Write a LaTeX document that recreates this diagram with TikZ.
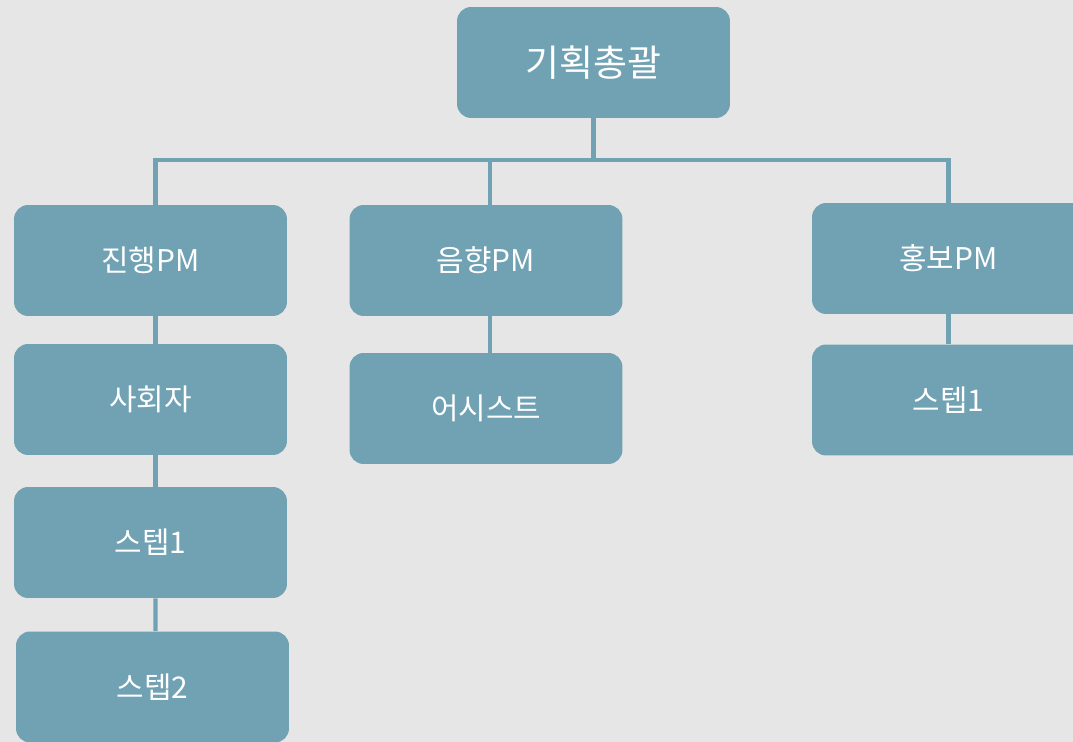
\documentclass[tikz,border=0pt]{standalone}
\usepackage{fontspec}
\setmainfont{Noto Sans CJK KR}
\usetikzlibrary{positioning}
\definecolor{boxblue}{HTML}{70A2B4}
\definecolor{paper}{HTML}{E6E6E6}
\tikzset{font=\fontsize{17pt}{20pt}\selectfont}
\tikzset{orgbox/.style={fill=boxblue, text=white, rounded corners=8pt,
    minimum width=5.46cm, minimum height=2.22cm, inner sep=0pt}}
\tikzset{link/.style={draw=boxblue, line width=2.3pt}}

\begin{document}
\begin{tikzpicture}[x=0.02cm, y=-0.02cm]
\fill[paper] (0,0) rectangle (1073,742);
\useasboundingbox (0,0) rectangle (1073,742);
\clip (0,0) rectangle (1073,742);
% top level
\node[orgbox, font=\fontsize{21pt}{24pt}\selectfont] (head) at (593.5,62.5) {기획총괄};
% second level
\node[orgbox] (prog) at (150.5,260.5) {진행PM};
\node[orgbox] (sound) at (486,260.5) {음향PM};
\node[orgbox] (promo) at (948.5,258.5) {홍보PM};
% below
\node[orgbox] (mc) at (150.5,399.5) {사회자};
\node[orgbox] (assist) at (486,408.5) {어시스트};
\node[orgbox] (promostep) at (948.5,400) {스텝1};
\node[orgbox] (stepA) at (150.5,542.5) {스텝1};
\node[orgbox] (stepB) at (152.5,687) {스텝2};
% connectors
\coordinate (bar) at (593.5,160);
\draw[link] (head.south) -- (bar);
\draw[link] (bar) -| ([xshift=0.1cm]prog.north);
\draw[link] (bar) -| ([xshift=0.08cm]sound.north);
\draw[link] (bar) -| (promo.north);
\draw[link] ([xshift=0.1cm]prog.south) -- ([xshift=0.1cm]mc.north);
\draw[link] ([xshift=0.1cm]mc.south) -- ([xshift=0.1cm]stepA.north);
\draw[link] ([xshift=0.1cm]stepA.south) -- ([xshift=0.06cm]stepB.north);
\draw[link] ([xshift=0.08cm]sound.south) -- ([xshift=0.08cm]assist.north);
\draw[link] (promo.south) -- (promostep.north);
\end{tikzpicture}
\end{document}
